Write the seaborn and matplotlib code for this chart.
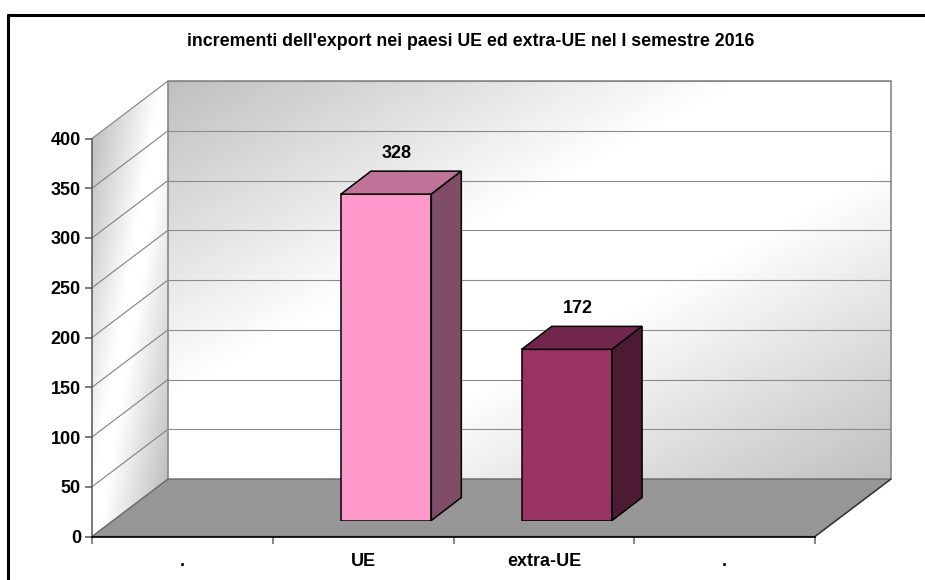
import numpy as np
import pandas as pd
import matplotlib
matplotlib.use("Agg")
import matplotlib.pyplot as plt
import seaborn as sns
from matplotlib.lines import Line2D
from matplotlib.patches import Polygon

# Dati
titolo = "incrementi dell'export nei paesi UE ed extra-UE nel I semestre 2016"
categorie = [".", "UE", "extra-UE", ". "]
valori = [np.nan, 328, 172, np.nan]
colori = ["#FF99CC", "#FF99CC", "#993366", "#993366"]
tacche_y = [0, 50, 100, 150, 200, 250, 300, 350, 400]

sns.set_theme(style="white")
plt.rcParams["font.family"] = ["Liberation Sans", "DejaVu Sans"]
plt.rcParams["font.weight"] = "bold"

LARG, ALT = 925, 580
fig = plt.figure(figsize=(LARG / 100, ALT / 100), dpi=100)
fig.patch.set_facecolor("white")

# piano frontale del grafico (pixel -> frazioni di figura)
x0, y0, w, h = 92, 536.5, 723, 398
ax = fig.add_axes([x0 / LARG, (ALT - y0) / ALT, w / LARG, h / ALT])
ax.set_facecolor("none")
ax.set_xlim(-0.5, 3.5)
ax.set_ylim(0, 400)

# profondita' del box 3D in unita' dati
px_x = 4 / w
px_y = 400 / h
prof_x = 76 * px_x
prof_y = 57.5 * px_y
xa, xb = -0.5, 3.5


def sfumatura(ax, punti, valore, estensione):
    # immagine in scala di grigi ritagliata sul poligono
    u, v = np.meshgrid(np.linspace(0, 1, 300), np.linspace(0, 1, 300))
    img = ax.imshow(valore(u, v), extent=estensione, origin="upper", aspect="auto",
                    cmap="gray", vmin=0, vmax=1, zorder=1, interpolation="bilinear")
    poli = Polygon(punti, closed=True, transform=ax.transData, facecolor="none", edgecolor="none")
    ax.add_patch(poli)
    img.set_clip_path(poli)
    img.set_clip_box(fig.bbox)


def diagonale(u, v):
    t = (u + v) / 2
    return np.minimum(1, 0.75 + 0.25 * 1.25 * (1 - np.abs(2 * t - 1)))


# parete di fondo
sfumatura(ax, [(xa + prof_x, prof_y), (xb + prof_x, prof_y), (xb + prof_x, 400 + prof_y), (xa + prof_x, 400 + prof_y)],
          diagonale, (xa + prof_x, xb + prof_x, prof_y, 400 + prof_y))
# parete sinistra
sfumatura(ax, [(xa, 0), (xa + prof_x, prof_y), (xa + prof_x, 400 + prof_y), (xa, 400)],
          lambda u, v: np.minimum(1, 0.76 + 0.27 * (1 - np.abs(u + v - 1) * 1.2)),
          (xa, xa + prof_x, 0, 400 + prof_y))
ax.set_xlim(-0.5, 3.5)
ax.set_ylim(0, 400)

# griglia su fondo e parete sinistra
for v in tacche_y[1:]:
    ax.plot([xa, xa + prof_x], [v, v + prof_y], color="#808080", lw=0.8, clip_on=False, zorder=2)
    ax.plot([xa + prof_x, xb + prof_x], [v + prof_y, v + prof_y], color="#8c8c8c", lw=0.8, clip_on=False, zorder=2)

# bordi delle pareti
ax.plot([xa + prof_x, xa + prof_x, xb + prof_x, xb + prof_x], [prof_y, 400 + prof_y, 400 + prof_y, prof_y],
        color="#888888", lw=1.2, clip_on=False, zorder=2)

# pavimento
ax.add_patch(Polygon([(xa, 0), (xb, 0), (xb + prof_x, prof_y), (xa + prof_x, prof_y)], closed=True,
                     facecolor="#969696", edgecolor="#666666", lw=1.0, clip_on=False, zorder=3))
ax.plot([xb, xb + prof_x], [0, prof_y], color="#333333", lw=1.0, clip_on=False, zorder=3)

# assi
ax.set_xticks([-0.5, 0.5, 1.5, 2.5, 3.5])
ax.set_xticklabels([])
ax.set_xticks([0, 1, 2, 3], labels=[c.strip() for c in categorie], minor=True)
ax.set_yticks(tacche_y)
ax.tick_params(axis="y", which="major", left=True, length=5, width=1.1, color="#555555", labelsize=13, pad=3, labelcolor="black")
ax.tick_params(axis="x", which="major", bottom=True, length=5, width=1.1, color="#666666")
ax.tick_params(axis="x", which="minor", bottom=False, length=0, labelsize=13, pad=12, labelcolor="black")
for s in ["top", "right"]:
    ax.spines[s].set_visible(False)
ax.spines["left"].set_color("#555555")
ax.spines["left"].set_linewidth(1.1)
ax.spines["left"].set_zorder(5)
ax.spines["bottom"].set_color("black")
ax.spines["bottom"].set_linewidth(1.2)
ax.spines["bottom"].set_zorder(5)
for lab in ax.get_yticklabels() + ax.get_xticklabels(minor=True):
    lab.set_fontweight("bold")

# barre: piano spostato dentro il box
ax_bar = fig.add_axes([(x0 + 23) / LARG, (ALT - y0 + 16) / ALT, w / LARG, h / ALT])
ax_bar.set_facecolor("none")
dati = pd.DataFrame({"categoria": categorie, "valore": valori})
sns.barplot(data=dati, x="categoria", y="valore", hue="categoria", palette=dict(zip(categorie, colori)),
            order=categorie, hue_order=categorie, dodge=False, width=0.5, saturation=1, legend=False,
            edgecolor="black", linewidth=1.1, ax=ax_bar)
ax_bar.set_xlim(-0.5, 3.5)
ax_bar.set_ylim(0, 400)
ax_bar.axis("off")

dx = 30 * px_x
dy = 23 * px_y
for bar in ax_bar.patches:
    alto = bar.get_height()
    if not np.isfinite(alto) or alto == 0:
        continue
    sx = bar.get_x()
    dest = sx + bar.get_width()
    base = np.array(bar.get_facecolor()[:3])
    ax_bar.add_patch(Polygon([(sx, alto), (dest, alto), (dest + dx, alto + dy), (sx + dx, alto + dy)], closed=True,
                             facecolor=base * 0.75, edgecolor="black", lw=1.1, clip_on=False))
    ax_bar.add_patch(Polygon([(dest, 0), (dest + dx, dy), (dest + dx, alto + dy), (dest, alto)], closed=True,
                             facecolor=base * 0.5, edgecolor="black", lw=1.1, clip_on=False))
    ax_bar.annotate(f"{alto:.0f}", (sx + bar.get_width() / 2 + dx, alto + dy), xytext=(-14, 13),
                    textcoords="offset points", ha="center", va="center", fontsize=13, fontweight="bold",
                    color="black", annotation_clip=False)

fig.text(470.5 / LARG, (ALT - 42) / ALT, titolo, ha="center", va="center", fontsize=12.75, fontweight="bold", color="black")

# cornice (tagliata a destra e in basso)
fig.add_artist(Line2D([8 / LARG, 8 / LARG], [0, (ALT - 15) / ALT], color="black", lw=2.2, transform=fig.transFigure))
fig.add_artist(Line2D([8 / LARG, 1], [(ALT - 15) / ALT, (ALT - 15) / ALT], color="black", lw=2.2, transform=fig.transFigure))

fig.savefig("out.png", dpi=100)
